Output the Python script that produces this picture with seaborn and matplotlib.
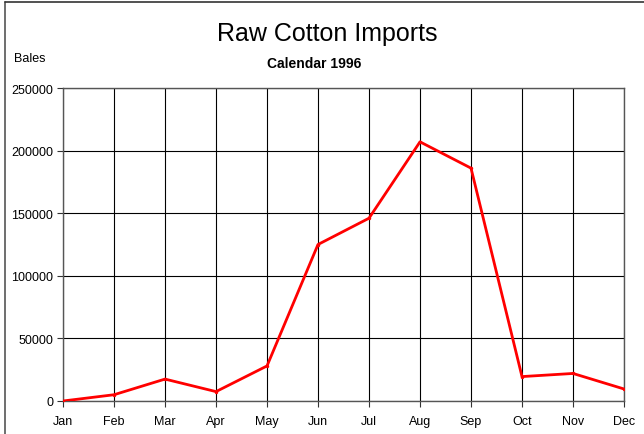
import matplotlib
matplotlib.use("Agg")
import matplotlib.pyplot as plt
from matplotlib.lines import Line2D
import seaborn as sns
import pandas as pd

months = ["Jan", "Feb", "Mar", "Apr", "May", "Jun",
          "Jul", "Aug", "Sep", "Oct", "Nov", "Dec"]
bales = [0, 5000, 17500, 7500, 28000, 125000,
         146000, 207000, 186000, 19500, 22000, 9600]
y_ticks = [0, 50000, 100000, 150000, 200000, 250000]

df = pd.DataFrame({"pos": range(len(months)), "bales": bales})

sns.set_theme(style="white")
plt.rcParams["font.family"] = ["Liberation Sans", "DejaVu Sans"]

W, H = 644, 435
fig = plt.figure(figsize=(W / 100, H / 100), dpi=100)
ax = fig.add_axes([63 / W, 33 / H, (624 - 63) / W, (402 - 89) / H])

sns.lineplot(data=df, x="pos", y="bales", ax=ax, color="#ff0000",
             linewidth=2.0, marker="o", markersize=2.5,
             markeredgewidth=0, zorder=5)

ax.set_xlim(0, len(months) - 1)
ax.set_ylim(0, 250000)
ax.set_xticks(range(len(months)))
ax.set_xticklabels(months)
ax.set_yticks(y_ticks)
ax.set_yticklabels([str(v) for v in y_ticks])
ax.set_xlabel("")
ax.set_ylabel("")

ax.grid(True, color="black", linewidth=0.8)
ax.set_axisbelow(True)
for s in ax.spines.values():
    s.set_color("#555555")
    s.set_linewidth(1.0)

ax.tick_params(axis="both", which="both", direction="out", length=4,
               width=0.8, color="#333333", labelsize=9, labelcolor="black",
               bottom=True, left=True, pad=3)
ax.tick_params(axis="x", pad=6)

fig.text(327 / W, 1 - 34 / H, "Raw Cotton Imports", ha="center",
         va="center", fontsize=18, color="black")
fig.text(314 / W, 1 - 64 / H, "Calendar 1996", ha="center", va="center",
         fontsize=10, fontweight="bold", color="black")
fig.text(14 / W, 1 - 59 / H, "Bales", ha="left", va="center",
         fontsize=9, color="black")

# frame along the top and left edges of the figure
fig.add_artist(Line2D([5 / W, 5 / W], [0, 1 - 3 / H], color="#555555",
                      linewidth=1.2, transform=fig.transFigure))
fig.add_artist(Line2D([5 / W, 1], [1 - 3 / H, 1 - 3 / H], color="#333333",
                      linewidth=1.2, transform=fig.transFigure))

fig.savefig("out.png", dpi=100, facecolor="white")
